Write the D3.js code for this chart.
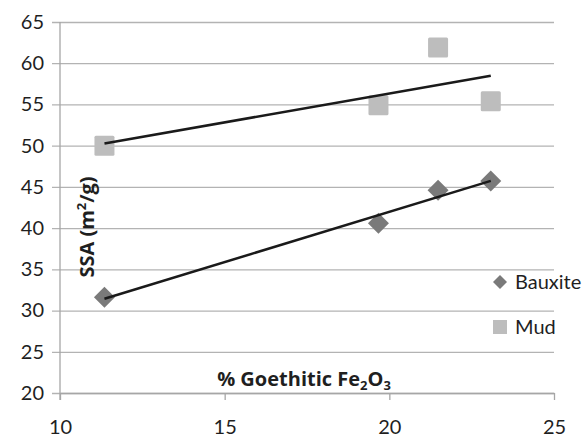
<!DOCTYPE html>
<html>
<head>
<meta charset="utf-8">
<script src="https://cdn.jsdelivr.net/npm/d3@7"></script>
<style>
  body { margin: 0; background: #fff; }
  text { font-family: Lato, "Open Sans", sans-serif; fill: #1f1f1f; }
  .title { font-family: "Open Sans", sans-serif; font-weight: 700; }
</style>
</head>
<body>
<div id="chart"></div>
<script>
// data
let bauxiteX = [11.35, 19.67, 21.48, 23.08];
let bauxiteY = [31.6, 40.6, 44.6, 45.7];
let mudX = [11.35, 19.67, 21.48, 23.08];
let mudY = [50.0, 54.9, 61.9, 55.4];
let xTicks = [10, 15, 20, 25];
let yTicks = [20, 25, 30, 35, 40, 45, 50, 55, 60, 65];

let width = 587;
let height = 437;
let padLeft = 60, padRight = 554, padTop = 22, padBottom = 393;

let svg = d3.select("#chart")
  .append("svg")
  .attr("width", width)
  .attr("height", height);

let xScale = d3.scaleLinear().domain([10, 25]).range([padLeft, padRight]);
let yScale = d3.scaleLinear().domain([20, 65]).range([padBottom, padTop]);

// gridlines + y ticks (ticks poke out to the left)
let yAxis = d3.axisLeft(yScale)
  .tickValues(yTicks)
  .tickSize(-(padRight - padLeft))
  .tickSizeOuter(0)
  .tickPadding(16)
  .tickFormat(d3.format("d"));

let gy = svg.append("g")
  .attr("class", "yAxis")
  .attr("transform", "translate(" + padLeft + ",0)")
  .call(yAxis);
gy.select(".domain").remove();
gy.selectAll(".tick line")
  .attr("x1", -8)
  .attr("stroke", "#b3b3b3")
  .attr("stroke-width", 1.3);
gy.selectAll(".tick text")
  .attr("font-size", 20)
  .attr("font-family", "Lato, sans-serif")
  .attr("fill", "#1f1f1f");

// x axis at the bottom
let xAxis = d3.axisBottom(xScale)
  .tickValues(xTicks)
  .tickSize(7)
  .tickSizeOuter(0)
  .tickPadding(20)
  .tickFormat(d3.format("d"));

let gx = svg.append("g")
  .attr("class", "xAxis")
  .attr("transform", "translate(0," + padBottom + ")")
  .call(xAxis);
gx.select(".domain").attr("stroke", "#a6a6a6").attr("stroke-width", 1.3);
gx.selectAll(".tick line").attr("stroke", "#a6a6a6").attr("stroke-width", 1.3);
gx.selectAll(".tick text")
  .attr("font-size", 20)
  .attr("font-family", "Lato, sans-serif")
  .attr("fill", "#1f1f1f");

// vertical axis line
svg.append("line")
  .attr("x1", padLeft).attr("x2", padLeft)
  .attr("y1", padTop).attr("y2", padBottom + 7)
  .attr("stroke", "#a6a6a6")
  .attr("stroke-width", 1.3);

// linear trendline, least squares
function trend(xs, ys) {
  let mx = d3.mean(xs), my = d3.mean(ys);
  let sxy = d3.sum(xs, function (x, i) { return (x - mx) * (ys[i] - my); });
  let sxx = d3.sum(xs, function (x) { return (x - mx) * (x - mx); });
  let b = sxy / sxx;
  let x0 = d3.min(xs), x1 = d3.max(xs);
  return [[x0, my + b * (x0 - mx)], [x1, my + b * (x1 - mx)]];
}

let line = d3.line()
  .x(function (d) { return xScale(d[0]); })
  .y(function (d) { return yScale(d[1]); });

// mud squares
svg.selectAll(".mud")
  .data(d3.zip(mudX, mudY))
  .enter()
  .append("rect")
  .attr("class", "mud")
  .attr("x", function (d) { return xScale(d[0]) - 10; })
  .attr("y", function (d) { return yScale(d[1]) - 10; })
  .attr("width", 20)
  .attr("height", 20)
  .attr("rx", 1.5)
  .attr("fill", "#bdbdbd");

// bauxite diamonds
svg.selectAll(".bauxite")
  .data(d3.zip(bauxiteX, bauxiteY))
  .enter()
  .append("path")
  .attr("class", "bauxite")
  .attr("d", "M0,-10.5L10.5,0L0,10.5L-10.5,0Z")
  .attr("transform", function (d) {
    return "translate(" + xScale(d[0]) + "," + yScale(d[1]) + ")";
  })
  .attr("fill", "#7a7a7a");

svg.append("path")
  .attr("d", line(trend(mudX, mudY)))
  .attr("stroke", "#1a1a1a")
  .attr("stroke-width", 2.5)
  .attr("fill", "none");
svg.append("path")
  .attr("d", line(trend(bauxiteX, bauxiteY)))
  .attr("stroke", "#1a1a1a")
  .attr("stroke-width", 2.5)
  .attr("fill", "none");

// axis titles
let xt = svg.append("text")
  .attr("class", "title")
  .attr("x", 304)
  .attr("y", 386)
  .attr("text-anchor", "middle")
  .attr("font-size", 20);
xt.append("tspan").text("% Goethitic Fe");
xt.append("tspan").attr("font-size", 13).attr("dy", 4).text("2");
xt.append("tspan").attr("dy", -4).text("O");
xt.append("tspan").attr("font-size", 13).attr("dy", 4).text("3");

let yt = svg.append("text")
  .attr("class", "title")
  .attr("transform", "translate(94,227)rotate(-90)")
  .attr("text-anchor", "middle")
  .attr("font-size", 20);
yt.append("tspan").text("SSA (m");
yt.append("tspan").attr("font-size", 13).attr("dy", -8).text("2");
yt.append("tspan").attr("dy", 8).text("/g)");

// legend
svg.append("path")
  .attr("d", "M0,-7L7,0L0,7L-7,0Z")
  .attr("transform", "translate(500,282)")
  .attr("fill", "#7a7a7a");
svg.append("text")
  .attr("x", 515).attr("y", 289)
  .attr("font-size", 20)
  .text("Bauxite");
svg.append("rect")
  .attr("x", 493).attr("y", 320)
  .attr("width", 14).attr("height", 14)
  .attr("fill", "#bdbdbd");
svg.append("text")
  .attr("x", 515).attr("y", 334)
  .attr("font-size", 20)
  .text("Mud");
</script>
</body>
</html>
